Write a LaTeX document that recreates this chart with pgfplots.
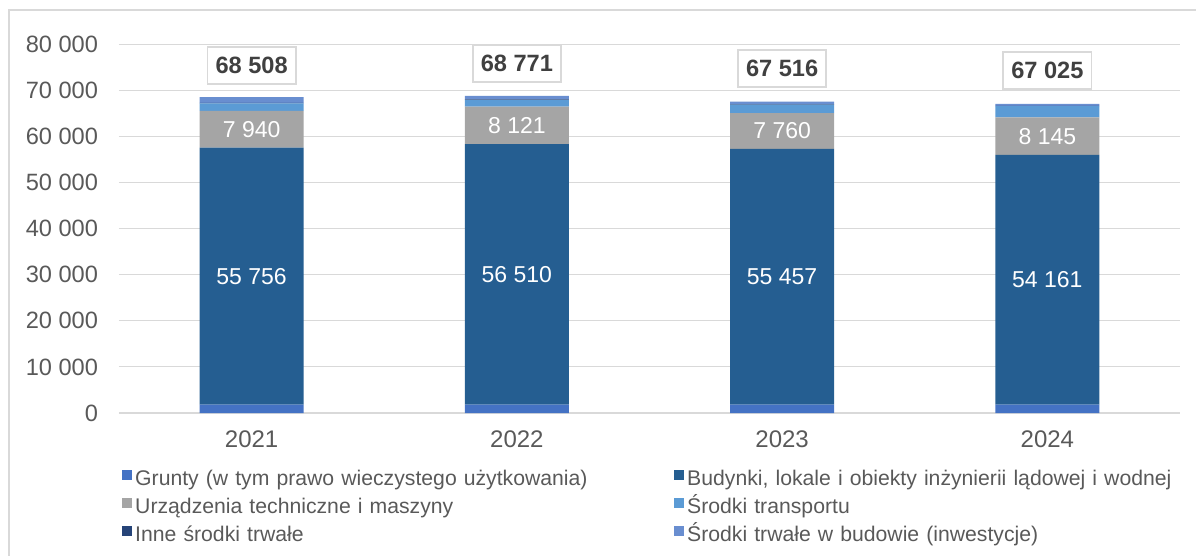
\documentclass[border=0pt]{standalone}
\usepackage{fontspec}
\setmainfont{Liberation Sans}
\usepackage{pgfplots}
\pgfplotsset{compat=1.18}

\definecolor{grunty}{HTML}{4472C4}
\definecolor{budynki}{HTML}{255E91}
\definecolor{urzadz}{HTML}{A5A5A5}
\definecolor{transp}{HTML}{5B9BD5}
\definecolor{inne}{HTML}{264478}
\definecolor{budowa}{HTML}{698ED0}
\definecolor{gridc}{HTML}{D9D9D9}
\definecolor{txt}{HTML}{595959}
\definecolor{dark}{HTML}{404040}

\pgfplotsset{
  seglabel/.style={
    nodes near coords, point meta=explicit symbolic,
    every node near coord/.append style={anchor=center, text=white,
      font=\fontsize{11.5}{13}\selectfont}},
}

\begin{document}
\begin{tikzpicture}
\useasboundingbox (0,0) rectangle (598pt,-278pt);
\draw[gridc, line width=0.8pt] (4.5pt,-5pt) rectangle (620pt,-300pt);
\begin{axis}[
  at={(59.5pt,-206.5pt)}, anchor=south west,
  scale only axis, width=530.5pt, height=184.5pt,
  ybar stacked, bar width=52pt,
  xmin=-0.5, xmax=3.5, ymin=0, ymax=80000,
  xtick=data, xticklabels={2021,2022,2023,2024},
  ytick={0,10000,...,80000}, scaled y ticks=false,
  ymajorgrids, grid style={gridc, line width=0.5pt},
  axis x line*=bottom, axis y line*=left,
  x axis line style={gridc, line width=1pt, -},
  y axis line style={draw=none},
  major tick length=0pt,
  tick label style={text=txt},
  yticklabel style={xshift=-7pt, font=\fontsize{11.8}{13}\selectfont},
  xticklabel style={yshift=-5.5pt, font=\fontsize{12}{13}\selectfont},
  /pgf/number format/1000 sep={\ },
  /pgf/number format/assume math mode=true,
  every axis plot post/.append style={draw=none,
    legend image code/.code={\fill[##1] (0pt,0pt) rectangle (5pt,5pt);}},
  legend style={at={(rel axis cs:-0.003,-0.137)}, anchor=north west,
    draw=none, fill=none, legend columns=2,
    font=\fontsize{10.6}{12}\selectfont, text=txt,
    nodes={inner xsep=1.5pt, inner ysep=1pt, text width=268pt,
      text height=8pt, text depth=2.5pt, align=left},
    row sep=1.5pt, column sep=0pt},
  legend cell align=left,
]
% Grunty
\addplot[fill=grunty] coordinates {(0,1800) (1,1800) (2,1800) (3,1800)};
% Budynki
\addplot[fill=budynki, seglabel] coordinates {
  (0,55756) [55 756] (1,56510) [56 510] (2,55457) [55 457] (3,54161) [54 161]};
% Urzadzenia
\addplot[fill=urzadz, seglabel] coordinates {
  (0,7940) [7 940] (1,8121) [8 121] (2,7760) [7 760] (3,8145) [8 145]};
% Transport
\addplot[fill=transp] coordinates {(0,1650) (1,1450) (2,1850) (3,2400)};
% Inne
\addplot[fill=inne] coordinates {(0,100) (1,100) (2,100) (3,100)};
% W budowie, with the totals above the bars
\addplot[fill=budowa, nodes near coords, point meta=explicit symbolic,
  every node near coord/.append style={anchor=south, yshift=7.5pt,
    fill=white, draw=gridc, line width=0.8pt, text=dark,
    font=\bfseries\fontsize{11.8}{13}\selectfont,
    inner xsep=4pt, minimum height=18.5pt}]
  coordinates {(0,1262) [68 508] (1,790) [68 771] (2,549) [67 516] (3,419) [67 025]};
\legend{Grunty (w tym prawo wieczystego użytkowania),
  {Budynki, lokale i obiekty inżynierii lądowej i wodnej},
  Urządzenia techniczne i maszyny, Środki transportu,
  Inne środki trwałe, Środki trwałe w budowie (inwestycje)}
\end{axis}
\end{tikzpicture}
\end{document}
